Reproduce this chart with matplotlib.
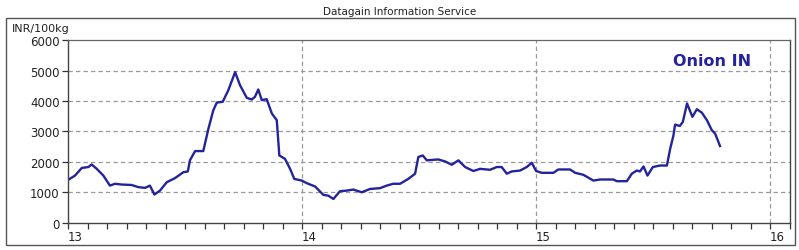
#!/usr/bin/env python3
"""Onion IN price chart (Datagain style) recreated with matplotlib."""
import matplotlib

matplotlib.use("Agg")
import matplotlib.pyplot as plt
from matplotlib.patches import Rectangle
from matplotlib.ticker import FixedLocator, MultipleLocator

# decimal year (13 = 2013) and price in INR/100kg
YEARS = [
    13.001, 13.030, 13.059, 13.087, 13.101, 13.123, 13.151, 13.179, 13.201,
    13.229, 13.272, 13.300, 13.329, 13.350, 13.369, 13.393, 13.422, 13.457,
    13.493, 13.512, 13.521, 13.543, 13.578, 13.600, 13.621, 13.636, 13.661,
    13.685, 13.714, 13.735, 13.764, 13.785, 13.799, 13.813, 13.828, 13.849,
    13.871, 13.892, 13.903, 13.927, 13.949, 13.967, 13.999, 14.020, 14.056,
    14.091, 14.112, 14.134, 14.162, 14.191, 14.219, 14.255, 14.291, 14.333,
    14.362, 14.390, 14.419, 14.454, 14.483, 14.497, 14.516, 14.533, 14.582,
    14.611, 14.640, 14.668, 14.697, 14.732, 14.761, 14.803, 14.832, 14.853,
    14.875, 14.896, 14.932, 14.960, 14.982, 15.000, 15.024, 15.074, 15.095,
    15.145, 15.167, 15.202, 15.245, 15.274, 15.330, 15.345, 15.388, 15.409,
    15.430, 15.444, 15.459, 15.476, 15.499, 15.530, 15.559, 15.573, 15.587,
    15.594, 15.614, 15.627, 15.645, 15.668, 15.687, 15.708, 15.730, 15.751,
    15.765, 15.786,
]
PRICES = [
    1410, 1550, 1800, 1830, 1915, 1770, 1550, 1220, 1280,
    1255, 1240, 1170, 1145, 1220, 925, 1055, 1330, 1465,
    1660, 1685, 2050, 2355, 2355, 3090, 3700, 3950, 3975,
    4355, 4950, 4520, 4105, 4050, 4140, 4380, 4030, 4060,
    3590, 3370, 2210, 2100, 1770, 1440, 1385, 1300, 1190,
    915, 890, 780, 1035, 1055, 1090, 1000, 1110, 1135,
    1220, 1280, 1280, 1440, 1610, 2160, 2210, 2050, 2080,
    2015, 1905, 2050, 1830, 1700, 1770, 1740, 1830, 1830,
    1610, 1685, 1715, 1830, 1970, 1700, 1640, 1640, 1750,
    1750, 1640, 1575, 1385, 1420, 1420, 1365, 1365, 1610,
    1715, 1685, 1850, 1550, 1830, 1880, 1880, 2430, 2870,
    3225, 3180, 3310, 3920, 3480, 3730, 3620, 3370, 3040,
    2930, 2520,
]
YEAR_TICKS = [13, 14, 15, 16]
YEAR_LABELS = ["13", "14", "15", "16"]
Y_TICKS = [0, 1000, 2000, 3000, 4000, 5000, 6000]

W, H = 799, 251
LINE = "#23239c"
TEXT = "#222222"
GRID = "#9a9a9a"

fig = plt.figure(figsize=(W / 100, H / 100), dpi=100)
fig.patch.set_facecolor("white")

# outer frame
fig.patches.append(
    Rectangle((6 / W, 1 - 246 / H), 789 / W, 227 / H, transform=fig.transFigure,
              fill=False, edgecolor="#555555", lw=1.0)
)

ax = fig.add_axes([68 / W, 1 - 223.7 / H, 722 / W, 182.5 / H])
ax.plot(YEARS, PRICES, color=LINE, lw=1.7, solid_joinstyle="round")

ax.set_xlim(13, 16.085)
ax.set_ylim(0, 6000)
ax.xaxis.set_major_locator(FixedLocator(YEAR_TICKS))
ax.xaxis.set_minor_locator(MultipleLocator(1 / 12))
ax.set_xticklabels(YEAR_LABELS)
ax.set_yticks(Y_TICKS)
ax.tick_params(axis="both", which="both", direction="out", length=4,
               width=0.9, color="#333333", labelcolor=TEXT, labelsize=8.5)
ax.tick_params(axis="y", pad=2)
ax.tick_params(axis="x", pad=1.5)
for lab in ax.get_xticklabels():
    lab.set_horizontalalignment("left")

for y in Y_TICKS[1:-1]:
    ax.axhline(y, color=GRID, lw=0.9, ls=(0, (3.5, 2.5)), zorder=0)
for x in YEAR_TICKS[1:]:
    ax.axvline(x, color=GRID, lw=0.9, ls=(0, (3.5, 2.5)), zorder=0)

for side in ["left", "bottom", "right"]:
    ax.spines[side].set_color("#444444")
    ax.spines[side].set_linewidth(1.0)
ax.spines["top"].set_color("#666666")
ax.spines["top"].set_linewidth(0.9)

fig.text(400 / W, 1 - 12 / H, "Datagain Information Service", ha="center",
         va="center", fontsize=7.5, color=TEXT)
fig.text(12 / W, 1 - 29 / H, "INR/100kg", ha="left", va="center",
         fontsize=8, color=TEXT)
fig.text(673 / W, 1 - 61.5 / H, "Onion IN", ha="left", va="center",
         fontsize=11.5, fontweight="bold", color=LINE)

fig.savefig("out.png", dpi=100)
